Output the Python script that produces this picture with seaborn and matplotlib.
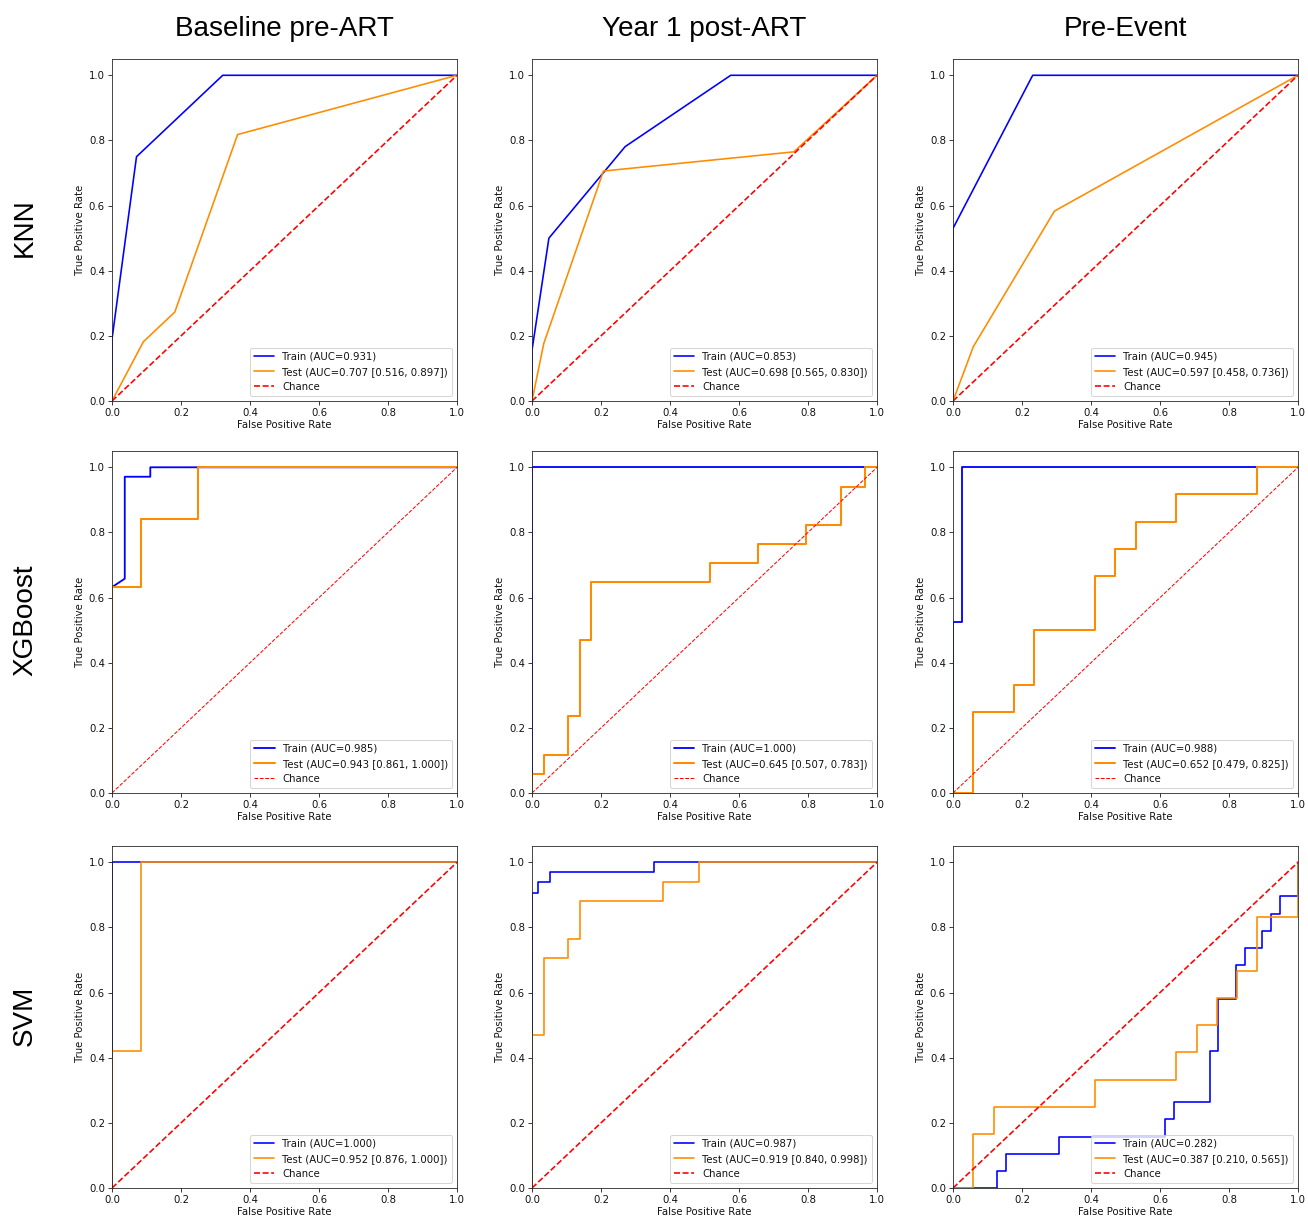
import matplotlib
matplotlib.use("Agg")
import matplotlib.pyplot as plt
import seaborn as sns
import pandas as pd

# ---------------- data ----------------
col_titles = ["Baseline pre-ART", "Year 1 post-ART", "Pre-Event"]
row_titles = ["KNN", "XGBoost", "SVM"]

# KNN
knn_base_train_fpr = [0, 0, 0.071, 0.321, 1]
knn_base_train_tpr = [0, 0.19, 0.75, 1.0, 1.0]
knn_base_test_fpr = [0, 0.091, 0.182, 0.364, 1]
knn_base_test_tpr = [0, 0.182, 0.273, 0.818, 1]

knn_y1_train_fpr = [0, 0, 0.049, 0.27, 0.576, 1]
knn_y1_train_tpr = [0, 0.156, 0.5, 0.781, 1, 1]
knn_y1_test_fpr = [0, 0.034, 0.207, 0.759, 1]
knn_y1_test_tpr = [0, 0.176, 0.706, 0.765, 1]

knn_pre_train_fpr = [0, 0, 0.231, 1]
knn_pre_train_tpr = [0, 0.53, 1, 1]
knn_pre_test_fpr = [0, 0.059, 0.294, 1]
knn_pre_test_tpr = [0, 0.167, 0.583, 1]

# XGBoost
xgb_base_train_fpr = [0, 0, 0.037, 0.037, 0.111, 0.111, 1]
xgb_base_train_tpr = [0, 0.632, 0.658, 0.971, 0.971, 1, 1]
xgb_base_test_fpr = [0, 0, 0.083, 0.083, 0.25, 0.25, 1]
xgb_base_test_tpr = [0, 0.632, 0.632, 0.842, 0.842, 1, 1]

xgb_y1_train_fpr = [0, 0, 1]
xgb_y1_train_tpr = [0, 1, 1]
xgb_y1_test_fpr = [0, 0, 0.034, 0.034, 0.103, 0.103, 0.138, 0.138, 0.172, 0.172,
                   0.517, 0.517, 0.655, 0.655, 0.793, 0.793, 0.897, 0.897, 0.966, 0.966, 1]
xgb_y1_test_tpr = [0, 0.059, 0.059, 0.118, 0.118, 0.235, 0.235, 0.471, 0.471, 0.647,
                   0.647, 0.706, 0.706, 0.765, 0.765, 0.824, 0.824, 0.941, 0.941, 1, 1]

xgb_pre_train_fpr = [0, 0, 0.026, 0.026, 1]
xgb_pre_train_tpr = [0, 0.526, 0.526, 1, 1]
xgb_pre_test_fpr = [0, 0.059, 0.059, 0.176, 0.176, 0.235, 0.235, 0.412, 0.412,
                    0.471, 0.471, 0.529, 0.529, 0.647, 0.647, 0.882, 0.882, 1]
xgb_pre_test_tpr = [0, 0, 0.25, 0.25, 0.333, 0.333, 0.5, 0.5, 0.667,
                    0.667, 0.75, 0.75, 0.833, 0.833, 0.917, 0.917, 1, 1]

# SVM
svm_base_train_fpr = [0, 0, 1]
svm_base_train_tpr = [0, 1, 1]
svm_base_test_fpr = [0, 0, 0.083, 0.083, 1]
svm_base_test_tpr = [0, 0.421, 0.421, 1, 1]

svm_y1_train_fpr = [0, 0, 0.017, 0.017, 0.052, 0.052, 0.355, 0.355, 1]
svm_y1_train_tpr = [0, 0.906, 0.906, 0.938, 0.938, 0.969, 0.969, 1, 1]
svm_y1_test_fpr = [0, 0, 0.034, 0.034, 0.103, 0.103, 0.138, 0.138, 0.379, 0.379, 0.483, 0.483, 1]
svm_y1_test_tpr = [0, 0.471, 0.471, 0.706, 0.706, 0.765, 0.765, 0.882, 0.882, 0.941, 0.941, 1, 1]

svm_pre_train_fpr = [0, 0.128, 0.128, 0.154, 0.154, 0.308, 0.308, 0.615, 0.615, 0.641, 0.641,
                     0.744, 0.744, 0.769, 0.769, 0.821, 0.821, 0.846, 0.846, 0.897, 0.897,
                     0.923, 0.923, 0.949, 0.949, 1, 1]
svm_pre_train_tpr = [0, 0, 0.053, 0.053, 0.105, 0.105, 0.158, 0.158, 0.211, 0.211, 0.263,
                     0.263, 0.421, 0.421, 0.579, 0.579, 0.684, 0.684, 0.737, 0.737, 0.789,
                     0.789, 0.842, 0.842, 0.895, 0.895, 1]
svm_pre_test_fpr = [0, 0.059, 0.059, 0.118, 0.118, 0.412, 0.412, 0.647, 0.647, 0.706, 0.706,
                    0.765, 0.765, 0.824, 0.824, 0.882, 0.882, 1, 1]
svm_pre_test_tpr = [0, 0, 0.167, 0.167, 0.25, 0.25, 0.333, 0.333, 0.417, 0.417, 0.5,
                    0.5, 0.583, 0.583, 0.667, 0.667, 0.833, 0.833, 1]

train_auc = [["0.931", "0.853", "0.945"],
             ["0.985", "1.000", "0.988"],
             ["1.000", "0.987", "0.282"]]
test_auc = [["0.707 [0.516, 0.897]", "0.698 [0.565, 0.830]", "0.597 [0.458, 0.736]"],
            ["0.943 [0.861, 1.000]", "0.645 [0.507, 0.783]", "0.652 [0.479, 0.825]"],
            ["0.952 [0.876, 1.000]", "0.919 [0.840, 0.998]", "0.387 [0.210, 0.565]"]]

chance_x = [0, 1]
chance_y = [0, 1]

curves = [
    [(knn_base_train_fpr, knn_base_train_tpr, knn_base_test_fpr, knn_base_test_tpr),
     (knn_y1_train_fpr, knn_y1_train_tpr, knn_y1_test_fpr, knn_y1_test_tpr),
     (knn_pre_train_fpr, knn_pre_train_tpr, knn_pre_test_fpr, knn_pre_test_tpr)],
    [(xgb_base_train_fpr, xgb_base_train_tpr, xgb_base_test_fpr, xgb_base_test_tpr),
     (xgb_y1_train_fpr, xgb_y1_train_tpr, xgb_y1_test_fpr, xgb_y1_test_tpr),
     (xgb_pre_train_fpr, xgb_pre_train_tpr, xgb_pre_test_fpr, xgb_pre_test_tpr)],
    [(svm_base_train_fpr, svm_base_train_tpr, svm_base_test_fpr, svm_base_test_tpr),
     (svm_y1_train_fpr, svm_y1_train_tpr, svm_y1_test_fpr, svm_y1_test_tpr),
     (svm_pre_train_fpr, svm_pre_train_tpr, svm_pre_test_fpr, svm_pre_test_tpr)],
]

# ---------------- style ----------------
sns.set_theme(style="ticks")
plt.rcParams["font.family"] = ["DejaVu Sans"]
plt.rcParams.update({
    "axes.edgecolor": "#222222",
    "axes.linewidth": 0.8,
    "xtick.labelsize": 10,
    "ytick.labelsize": 10,
    "axes.labelsize": 10,
    "legend.fontsize": 10,
    "xtick.direction": "out",
    "ytick.direction": "out",
    "xtick.major.size": 3.5,
    "ytick.major.size": 3.5,
    "xtick.major.width": 0.8,
    "ytick.major.width": 0.8,
    "xtick.major.pad": 3.5,
    "ytick.major.pad": 3.5,
    "text.color": "#111111",
    "axes.labelcolor": "#111111",
    "xtick.color": "#111111",
    "ytick.color": "#111111",
})

DPI = 73
W, H = 1308, 1219
fig = plt.figure(figsize=(W / DPI, H / DPI), dpi=DPI)

col_left = [112, 532, 953]
row_top = [59, 451, 846]
ax_w, ax_h = 345, 342

for r in range(3):
    for c in range(3):
        left = col_left[c] / W
        bottom = 1 - (row_top[r] + ax_h) / H
        ax = fig.add_axes([left, bottom, ax_w / W, ax_h / H])
        trf, trt, tef, tet = curves[r][c]
        lw_main = 1.8 if r == 1 else 1.6
        lw_test = 2.0 if r == 1 else 1.6
        lw_ch = 1.0 if r == 1 else 1.6
        sns.lineplot(x=trf, y=trt, sort=False, estimator=None, ax=ax,
                     color="blue", lw=lw_main,
                     label=f"Train (AUC={train_auc[r][c]})")
        sns.lineplot(x=tef, y=tet, sort=False, estimator=None, ax=ax,
                     color="darkorange", lw=lw_test,
                     label=f"Test (AUC={test_auc[r][c]})")
        sns.lineplot(x=chance_x, y=chance_y, sort=False, estimator=None, ax=ax,
                     color="red", lw=lw_ch, linestyle="--", label="Chance")
        ax.set_xlim(0, 1)
        ax.set_ylim(0, 1.05)
        ax.set_xticks([0, 0.2, 0.4, 0.6, 0.8, 1.0])
        ax.set_yticks([0, 0.2, 0.4, 0.6, 0.8, 1.0])
        ax.set_xlabel("False Positive Rate", labelpad=2)
        ax.set_ylabel("True Positive Rate", labelpad=4)
        ax.legend(loc="lower right", frameon=True, fancybox=True,
                  handlelength=2.0, borderpad=0.4, labelspacing=0.5)
        for s in ax.spines.values():
            s.set_visible(True)

title_font = ["Liberation Sans", "DejaVu Sans"]
col_centers = [284, 704, 1125]
for c, t in enumerate(col_titles):
    fig.text(col_centers[c] / W, 1 - 36 / H, t, ha="center", va="baseline",
             fontsize=27.5, family=title_font, color="black")

row_centers = [228, 620, 1016]
for r, t in enumerate(row_titles):
    fig.text(25 / W, 1 - row_centers[r] / H, t, ha="center", va="center",
             rotation=90, fontsize=27.5, family=title_font, color="black")

fig.savefig("out.png", dpi=DPI)
